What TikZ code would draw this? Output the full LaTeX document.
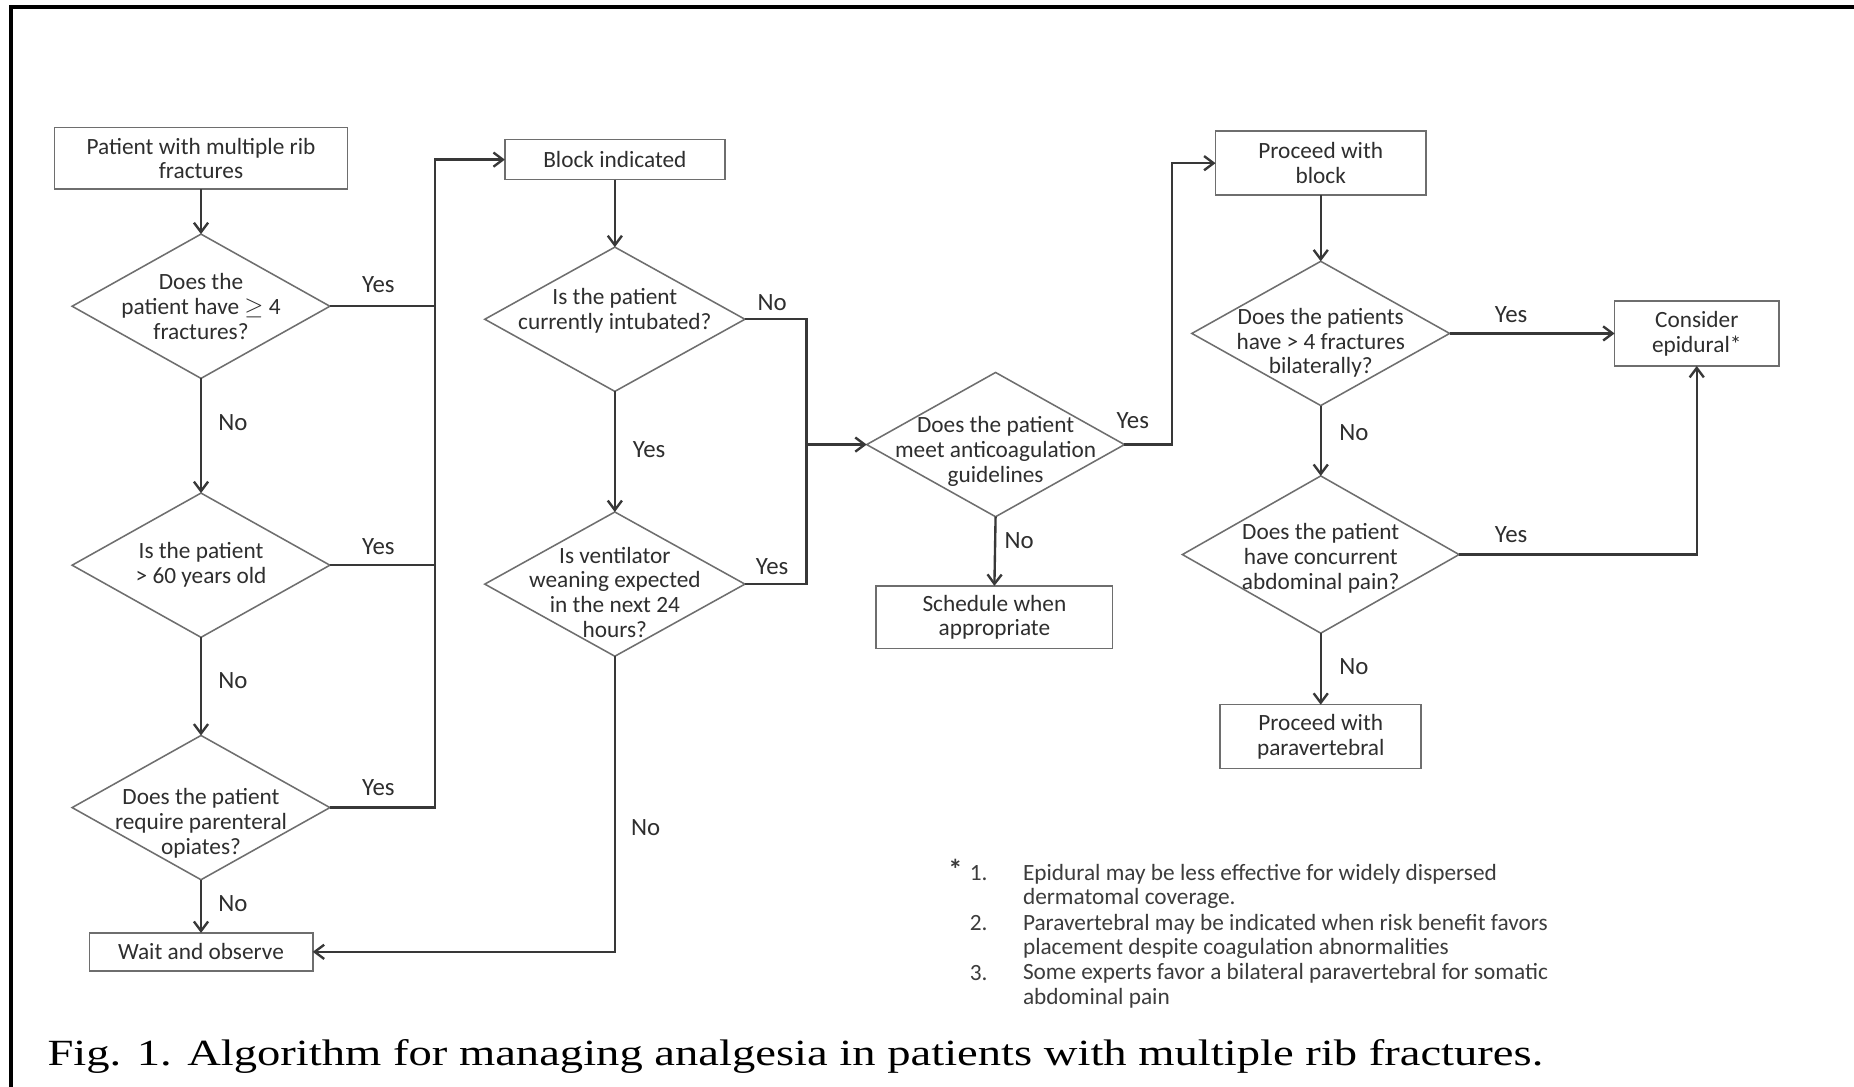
\documentclass[tikz,border=0pt]{standalone}
\usepackage{graphicx}
\usepackage{fontspec}
\setmainfont{Carlito}
\newfontfamily\captionserif{Liberation Serif}
\usetikzlibrary{shapes.geometric,arrows.meta}

\definecolor{ink}{HTML}{2E2E2E}
\definecolor{edgecol}{HTML}{6E6E6E}
\definecolor{wirecol}{HTML}{383838}
\definecolor{notecol}{HTML}{3C3C3C}

\newcommand\flowfont{\fontsize{19.7}{21}\selectfont}
\newcommand\tagfont{\fontsize{21}{21}\selectfont}

\begin{document}
\begin{tikzpicture}[x=1pt,y=-1pt,
  stepbox/.style={draw=edgecol, line width=1.3pt, fill=white, inner sep=0pt,
    outer sep=0pt, font=\flowfont, text=ink, align=center},
  decision/.style={diamond, draw=edgecol, line width=1.3pt, inner sep=0pt,
    outer sep=0pt, minimum width=218pt, minimum height=122pt},
  qtext/.style={font=\flowfont, text=ink, align=center, inner sep=0pt},
  tag/.style={font=\tagfont, text=ink, inner sep=0pt},
  note/.style={font=\flowfont, text=notecol, inner sep=0pt},
  wire/.style={draw=wirecol, line width=2pt},
  arr/.style={wire, -{Straight Barb[length=8pt,width=12pt]}},
]
% page area and frame
\fill[white] (0,0) rectangle (1568,919);
\useasboundingbox (0,0) rectangle (1568,919);
\draw[black, line width=3.5pt] (9.3,919) -- (9.3,6) -- (1568,6);

% first column: screening questions
\node[stepbox, minimum width=248pt, minimum height=52pt] (start) at (170,134) {Patient with multiple rib\\fractures};
\node[decision] (q1) at (170,259) {};
\node[qtext] (q1t) at (q1.center) {Does the\\patient have $\geq$ 4\\fractures?};
\node[decision] (q2) at (170,478) {};
\node[qtext] (q2t) at (q2.center) {Is the patient\\> 60 years old};
\node[decision] (q3) at (170,683) {};
\node[qtext] (q3t) at ([yshift=-13pt]q3.center) {Does the patient\\require parenteral\\opiates?};
\node[stepbox, minimum width=189pt, minimum height=32pt] (wait) at (170,805) {Wait and observe};

% second column: ventilation status
\node[stepbox, minimum width=186pt, minimum height=34pt] (block) at (520,135) {Block indicated};
\node[decision, minimum width=220pt] (q4) at (520,270) {};
\node[qtext] (q4t) at ([yshift=7pt]q4.center) {Is the patient\\currently intubated?};
\node[decision, minimum width=220pt] (q5) at (520,494) {};
\node[qtext] (q5t) at ([yshift=-7pt]q5.center) {Is ventilator\\weaning expected\\in the next 24\\hours?};

% third column: anticoagulation
\node[decision] (q6) at (842,376) {};
\node[qtext] (q6t) at ([yshift=-6pt]q6.center) {Does the patient\\meet anticoagulation\\guidelines};
\node[stepbox, minimum width=200pt, minimum height=53pt] (sched) at (841,522) {Schedule when\\appropriate};

% fourth column: choice of block
\node[stepbox, minimum width=178pt, minimum height=54pt] (proc) at (1117,138) {Proceed with\\block};
\node[decision] (q7) at (1117,282) {};
\node[qtext] (q7t) at ([yshift=-8pt]q7.center) {Does the patients\\have > 4 fractures\\bilaterally?};
\node[decision, minimum width=234pt, minimum height=133pt] (q8) at (1117,469) {};
\node[qtext] (q8t) at ([yshift=-3pt]q8.center) {Does the patient\\have concurrent\\abdominal pain?};
\node[stepbox, minimum width=170pt, minimum height=54pt] (para) at (1117,623) {Proceed with\\paravertebral};
\node[stepbox, minimum width=139pt, minimum height=55pt] (cons) at (1435,282) {Consider\\epidural*};

% junction points of the merging lines
\coordinate (hub1) at (368,135);
\coordinate (hub2) at (682,376);
\coordinate (hub3) at (991,376);

% connectors
\draw[arr] (start.south) -- (q1.north);
\draw[arr] (q1.south) -- (q2.north);
\draw[arr] (q2.south) -- (q3.north);
\draw[arr] (q3.south) -- (wait.north);
\draw[wire] (q1.east) -- (q1.east -| hub1);
\draw[wire] (q2.east) -- (q2.east -| hub1);
\draw[arr] (q3.east) -| (hub1) -- (block.west);
\draw[arr] (block.south) -- (q4.north);
\draw[arr] (q4.south) -- (q5.north);
\draw[wire] (q4.east) -| (hub2) |- (q5.east);
\draw[arr] (hub2) -- (q6.west);
\draw[arr] (q5.south) |- (wait.east);
\draw[arr] (q6.east) -- (hub3) |- (proc.west);
\draw[arr] (q6.south) -- (sched.north);
\draw[arr] (proc.south) -- (q7.north);
\draw[arr] (q7.east) -- (cons.west);
\draw[arr] (q7.south) -- (q8.north);
\draw[arr] (q8.east) -| (cons.south);
\draw[arr] (q8.south) -- (para.north);

% branch labels
\node[tag] (y1) at (320,241) {Yes};
\node[tag] (n1) at (197,357) {No};
\node[tag] (y2) at (320,462) {Yes};
\node[tag] (n2) at (197,576) {No};
\node[tag] (y3) at (320,666) {Yes};
\node[tag] (n3) at (197,764) {No};
\node[tag] (n4) at (653,256) {No};
\node[tag] (y4) at (549,380) {Yes};
\node[tag] (y5) at (653,479) {Yes};
\node[tag] (n5) at (546,700) {No};
\node[tag] (y6) at (958,356) {Yes};
\node[tag] (n6) at (862,457) {No};
\node[tag] (y7) at (1278,266) {Yes};
\node[tag] (n7) at (1145,366) {No};
\node[tag] (y8) at (1278,452) {Yes};
\node[tag] (n8) at (1145,564) {No};

% footnotes to the epidural box
\node[note, font=\bfseries\fontsize{24}{24}\selectfont] (star) at (808,735) {*};
\node[note, anchor=west] (k1) at (820,738.5) {1.};
\node[note, anchor=west] (k2) at (820,780.8) {2.};
\node[note, anchor=west] (k3) at (820,822.6) {3.};
\node[note, anchor=west, align=left] (f1) at (865,749.6) {Epidural may be less effective for widely dispersed\\dermatomal coverage.};
\node[note, anchor=west, align=left] (f2) at (865,792) {Paravertebral may be indicated when risk benefit favors\\placement despite coagulation abnormalities};
\node[note, anchor=west, align=left] (f3) at (865,833.7) {Some experts favor a bilateral paravertebral for somatic\\abdominal pain};

% figure caption
\node[anchor=base west, inner sep=0pt] (cap) at (40,901) {\resizebox{1265pt}{22pt}{\captionserif\fontsize{30}{30}\selectfont Fig. 1. Algorithm for managing analgesia in patients with multiple rib fractures.}};
\end{tikzpicture}
\end{document}
